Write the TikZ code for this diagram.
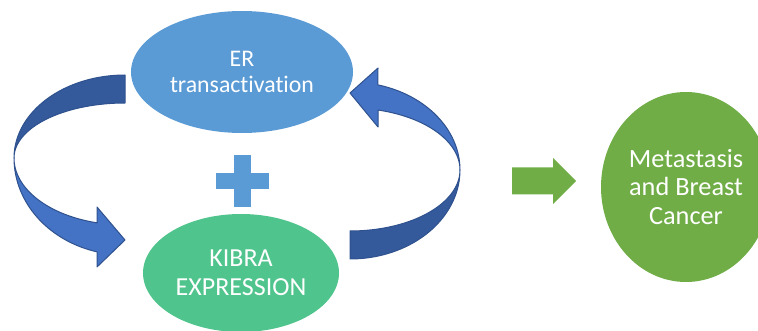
\documentclass[tikz,border=0pt]{standalone}
\usepackage{fontspec}
\setmainfont{Carlito}[Ligatures=NoCommon]
\usetikzlibrary{shapes.geometric}
\definecolor{erblue}{HTML}{5B9BD5}
\definecolor{kibragreen}{HTML}{4FC48C}
\definecolor{metgreen}{HTML}{70AD47}
\definecolor{backband}{HTML}{345A9B}
\definecolor{frontband}{HTML}{4472C4}
\definecolor{bandline}{HTML}{2F528F}
\begin{document}
\begin{tikzpicture}[x=1pt,y=-1pt,
  blob/.style={ellipse, inner sep=0pt, text=white, align=center},
  backpart/.style={fill=backband, draw=bandline, line width=1pt, line join=round},
  frontpart/.style={fill=frontband, draw=bandline, line width=1pt, line join=round}]
\useasboundingbox (0,0) rectangle (758,331);
\clip (0,0) rectangle (758,331);

% nodes
\node[blob, fill=erblue, minimum width=222pt, minimum height=122pt,
      font=\fontsize{23.8}{26}\selectfont] (er) at (242,72) {ER\\transactivation};
\node[blob, fill=kibragreen, minimum width=196pt, minimum height=118pt,
      font=\fontsize{26}{29}\selectfont] (kibra) at (241,273) {KIBRA\\EXPRESSION};
\node[blob, fill=metgreen, minimum width=170pt, minimum height=190pt,
      font=\fontsize{26.3}{28.5}\selectfont] (met) at (686,187) {Metastasis\\and Breast\\Cancer};

% plus sign
\fill[erblue] (234,155) rectangle (251,207);
\fill[erblue] (216,173) rectangle (269,189);

% left curved arrow (ER -> KIBRA)
\filldraw[backpart] plot[domain=270:180, samples=40] ({125+111*cos(\x)},{158+83*sin(\x)})
  -- plot[domain=180:270, samples=40] ({125+111*cos(\x)},{158+55*sin(\x)}) -- cycle;
\filldraw[frontpart] plot[domain=180:104.6, samples=40] ({125+111*cos(\x)},{158+97*sin(\x)})
  -- (97,267) -- (125,240) -- (97,207) -- (97,223)
  -- plot[domain=104.6:180, samples=40] ({125+111*cos(\x)},{158+67*sin(\x)}) -- cycle;

% right curved arrow (KIBRA -> ER)
\filldraw[backpart] plot[domain=90:0, samples=40] ({350+110*cos(\x)},{170+89*sin(\x)})
  -- plot[domain=0:90, samples=40] ({350+110*cos(\x)},{170+61*sin(\x)}) -- cycle;
\filldraw[frontpart] plot[domain=0:-75.3, samples=40] ({350+110*cos(\x)},{170+88*sin(\x)})
  -- (378,68) -- (350,93) -- (378,127) -- (378,110)
  -- plot[domain=-75.3:0, samples=40] ({350+110*cos(\x)},{170+62*sin(\x)}) -- cycle;

% green block arrow
\fill[metgreen] (512,167.5) -- (553,167.5) -- (553,158) -- (576,181) -- (553,204)
  -- (553,194.5) -- (512,194.5) -- cycle;
\end{tikzpicture}
\end{document}
